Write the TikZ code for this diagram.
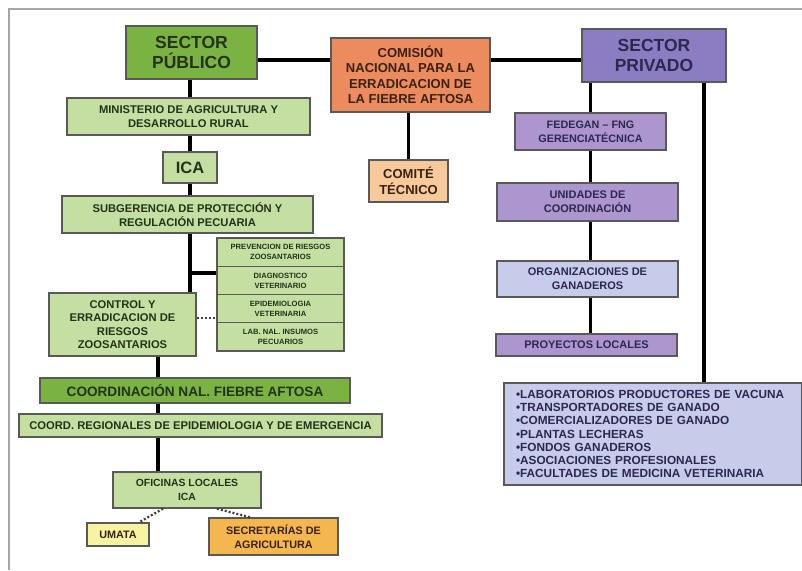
\documentclass[tikz,border=0pt]{standalone}
\usepackage{fontspec}
\setmainfont{Liberation Sans}
\usepackage{xcolor}
\usetikzlibrary{positioning, calc}
\definecolor{pubgreen}{HTML}{7AB342}
\definecolor{ltgreen}{HTML}{C5DFA2}
\definecolor{comorange}{HTML}{EC8B5E}
\definecolor{ctepeach}{HTML}{F8C99A}
\definecolor{privpurple}{HTML}{8C7CC2}
\definecolor{ltpurple}{HTML}{AD95CE}
\definecolor{ltblue}{HTML}{C7CCEA}
\definecolor{umayellow}{HTML}{F7F3A0}
\definecolor{secorange}{HTML}{F4B64E}
\definecolor{txtgreen}{HTML}{24321A}
\definecolor{txtpurple}{HTML}{2C2850}
\definecolor{txtbrown}{HTML}{3A2212}
\newcommand{\fsz}[2]{\fontsize{#1}{#2}\selectfont}

\begin{document}
\begin{tikzpicture}[
    x=1pt, y=-1pt,
    orgbox/.style={rectangle, draw=black!65, line width=1.3pt, fill=#1,
                   align=center, inner sep=0pt, font=\bfseries},
    orgbox/.default=ltgreen,
    conn/.style={line width=3.2pt, black},
    dots/.style={line width=2.3pt, black!75, dash pattern=on 2pt off 2pt}
]
\useasboundingbox (0,0) rectangle (802,570);
\draw[gray!70, line width=1.2pt] (9,570) -- (9,9) -- (802,9);

% public sector
\node[orgbox=pubgreen, minimum width=131, minimum height=53, text=txtgreen,
      font=\bfseries\fsz{17.5}{20}] at (191.5,52.5) (pub) {SECTOR\\PÚBLICO};
\node[orgbox, minimum width=243, minimum height=37, text=txtgreen,
      font=\bfseries\fsz{11.2}{14}] at (188.5,116.5) (mad) {MINISTERIO DE AGRICULTURA Y\\DESARROLLO RURAL};
\node[orgbox, minimum width=54, minimum height=31, text=txtgreen,
      font=\bfseries\fsz{16.5}{18}] at (190,167.5) (ica) {ICA};
\node[orgbox, minimum width=251, minimum height=37, text=txtgreen,
      font=\bfseries\fsz{11.2}{14}] at (187.5,214.5) (sub) {SUBGERENCIA DE PROTECCIÓN Y\\REGULACIÓN PECUARIA};

% stack of units
\node[orgbox, minimum width=127, minimum height=28.25, text=txtgreen,
      font=\bfseries\fsz{7.6}{10}] at (280.5,252.1) (st1) {PREVENCION DE RIESGOS\\ZOOSANTARIOS};
\node[orgbox, minimum width=127, minimum height=28.25, text=txtgreen,
      font=\bfseries\fsz{7.6}{10}] at (280.5,280.4) (st2) {DIAGNOSTICO\\VETERINARIO};
\node[orgbox, minimum width=127, minimum height=28.25, text=txtgreen,
      font=\bfseries\fsz{7.6}{10}] at (280.5,308.6) (st3) {EPIDEMIOLOGIA\\VETERINARIA};
\node[orgbox, minimum width=127, minimum height=28.25, text=txtgreen,
      font=\bfseries\fsz{7.6}{10}] at (280.5,336.9) (st4) {LAB. NAL. INSUMOS\\PECUARIOS};

\node[orgbox, minimum width=147, minimum height=63, text=txtgreen,
      font=\bfseries\fsz{11.2}{13.3}] at (122.5,324.5) (ctl) {CONTROL Y\\ERRADICACION DE\\RIESGOS\\ZOOSANTARIOS};
\node[orgbox=pubgreen, minimum width=310, minimum height=25, text=txtgreen,
      font=\bfseries\fsz{13.6}{15}] at (195,390.5) (cnal) {COORDINACIÓN NAL. FIEBRE AFTOSA};
\node[orgbox, minimum width=363, minimum height=23, text=txtgreen,
      font=\bfseries\fsz{11.2}{12}] at (200.5,425.5) (creg) {COORD. REGIONALES DE EPIDEMIOLOGIA Y DE EMERGENCIA};
\node[orgbox, minimum width=148, minimum height=36, text=txtgreen,
      font=\bfseries\fsz{10.4}{13.5}] at (187,490) (ofi) {OFICINAS LOCALES\\ICA};
\node[orgbox=umayellow, minimum width=62, minimum height=23, text=txtbrown,
      font=\bfseries\fsz{10.8}{12}] at (118,534.5) (umata) {UMATA};
\node[orgbox=secorange, minimum width=129, minimum height=37, text=txtbrown,
      font=\bfseries\fsz{10.8}{14}] at (273.5,536.5) (sec) {SECRETARÍAS DE\\AGRICULTURA};

% commission
\node[orgbox=comorange, minimum width=159, minimum height=74, text=txtbrown,
      font=\bfseries\fsz{13}{15.5}] at (410.5,75) (com) {COMISIÓN\\NACIONAL PARA LA\\ERRADICACION DE\\LA FIEBRE AFTOSA};
\node[orgbox=ctepeach, minimum width=79, minimum height=42, text=txtbrown,
      font=\bfseries\fsz{13}{15.5}] at (408.5,181) (cte) {COMITÉ\\TÉCNICO};

% private sector
\node[orgbox=privpurple, minimum width=144, minimum height=53, text=txtpurple,
      font=\bfseries\fsz{17.5}{20}] at (654,55.5) (priv) {SECTOR\\PRIVADO};
\node[orgbox=ltpurple, minimum width=151, minimum height=37, text=txtpurple,
      font=\bfseries\fsz{10.8}{14}] at (590.5,131.5) (fed) {FEDEGAN – FNG\\GERENCIATÉCNICA};
\node[orgbox=ltpurple, minimum width=181, minimum height=38, text=txtpurple,
      font=\bfseries\fsz{11}{14}] at (587.5,202) (uni) {UNIDADES DE\\COORDINACIÓN};
\node[orgbox=ltblue, minimum width=181, minimum height=36, text=txtpurple,
      font=\bfseries\fsz{11}{14}] at (587.5,279) (orgs) {ORGANIZACIONES DE\\GANADEROS};
\node[orgbox=ltpurple, minimum width=181, minimum height=22, text=txtpurple,
      font=\bfseries\fsz{11}{12}] at (586.5,345) (pro) {PROYECTOS LOCALES};
\node[orgbox=ltblue, text width=274, inner xsep=12, minimum height=102, align=left,
      text=txtpurple, font=\bfseries\fsz{11.8}{13.3}] at (653,434) (lst) {%
    •LABORATORIOS PRODUCTORES DE VACUNA\\
    •TRANSPORTADORES DE GANADO\\
    •COMERCIALIZADORES DE GANADO\\
    •PLANTAS LECHERAS\\
    •FONDOS GANADEROS\\
    •ASOCIACIONES PROFESIONALES\\
    •FACULTADES DE MEDICINA VETERINARIA};

% spines
\coordinate (topbar) at (0,60);
\coordinate (lspine) at (158,0);
\coordinate (rspine) at (704,0);

% connectors
\draw[conn] (pub.east |- topbar) -- (com.west |- topbar);
\draw[conn] (com.east |- topbar) -- (priv.west |- topbar);
\draw[conn] (cte.north) -- (cte.north |- com.south);
\draw[conn] (pub.south -| ica.north) -- (mad.north -| ica.north);
\draw[conn] (mad.south -| ica.north) -- (ica.north);
\draw[conn] (ica.south) -- (sub.north -| ica.south);
\draw[conn] (sub.south -| ica.south) -- (ctl.north -| ica.south);
\draw[conn] (ica.south |- 0,273) -- (st2.west |- 0,273);
\draw[dots] (ctl.east |- 0,318) -- (st3.west |- 0,318);
\draw[conn] (lspine |- ctl.south) -- (lspine |- cnal.north);
\draw[conn] (lspine |- cnal.south) -- (lspine |- creg.north);
\draw[conn] (lspine |- creg.south) -- (lspine |- ofi.north);
\draw[dots] ([xshift=-24pt]ofi.south) -- ([xshift=21pt]umata.north);
\draw[dots] ([xshift=30pt]ofi.south) -- ([xshift=-23.5pt]sec.north);
\draw[conn] (fed.north) -- (fed.north |- priv.south);
\draw[conn] (fed.south) -- (fed.south |- uni.north);
\draw[conn] (fed.south |- uni.south) -- (fed.south |- orgs.north);
\draw[conn] (fed.south |- orgs.south) -- (fed.south |- pro.north);
\draw[conn] (rspine |- priv.south) -- (rspine |- lst.north);

\end{tikzpicture}
\end{document}
